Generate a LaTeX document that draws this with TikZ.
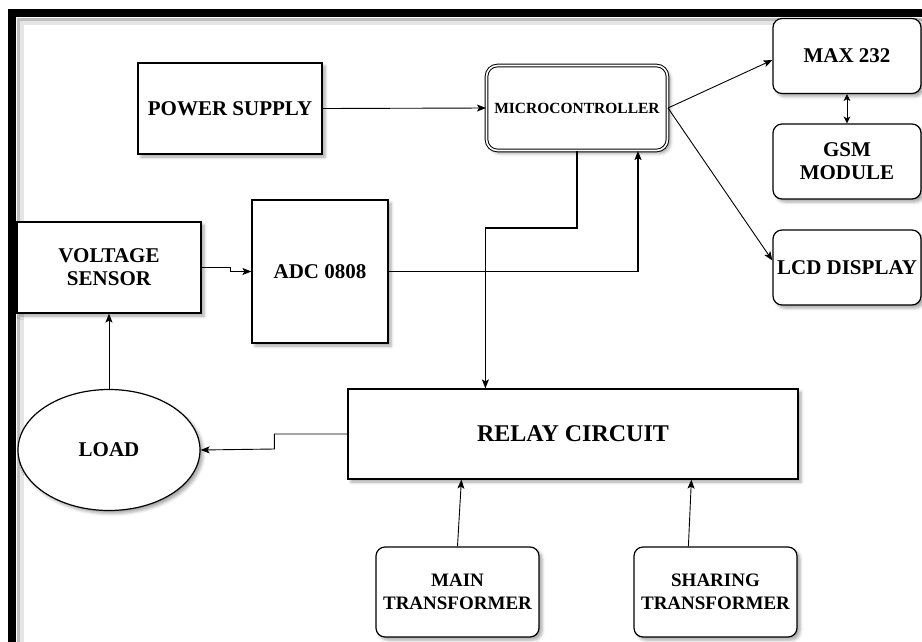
\documentclass[tikz,border=0pt]{standalone}
\usepackage{fontspec}
\setmainfont{Liberation Serif}
\usetikzlibrary{arrows.meta,shapes.geometric,shadows.blur,calc}
\tikzset{
  shd/.style={blur shadow={shadow xshift=3pt,shadow yshift=-3pt,shadow opacity=35,shadow blur radius=3pt}},
  sqbox/.style={draw=black,line width=1.2pt,fill=white,shd,align=center,inner sep=0pt,
    font=\fontsize{21}{23}\selectfont\bfseries},
  rbox/.style={sqbox,rounded corners=9pt},
  arr/.style={draw=black,line width=0.9pt,-{Stealth[length=9pt,width=7pt,inset=2pt]}},
  darr/.style={draw=black,line width=0.9pt,{Stealth[length=7pt,width=7pt,inset=2pt]}-{Stealth[length=7pt,width=7pt,inset=2pt]}}
}
\begin{document}
\begin{tikzpicture}[x=1pt,y=-1pt]
\useasboundingbox (0,0) rectangle (922,641);
% frame with inner shadow
\draw[black!10,line width=4pt] (22,700) -- (22,23) -- (950,23);
\draw[black!25,line width=3pt] (18.5,700) -- (18.5,19.5) -- (950,19.5);
\draw[black,line width=8pt] (12,700) -- (12,13) -- (950,13);

% nodes
\node[sqbox,minimum width=184pt,minimum height=91pt] (ps) at (230,108.5) {POWER SUPPLY};
\node[sqbox,rounded corners=11pt,double,double distance=1.6pt,line width=1pt,
  minimum width=181pt,minimum height=85pt,font=\fontsize{15.5}{17}\selectfont\bfseries] (mc) at (577,108) {MICROCONTROLLER};
\node[rbox,minimum width=148pt,minimum height=75pt] (max) at (847,56) {MAX 232};
\node[rbox,minimum width=148pt,minimum height=75pt] (gsm) at (847,161.5) {GSM\\MODULE};
\node[rbox,minimum width=148pt,minimum height=75pt] (lcd) at (847,267.5) {LCD DISPLAY};
\node[sqbox,minimum width=184pt,minimum height=91pt] (vs) at (109,267.5) {VOLTAGE\\SENSOR};
\node[sqbox,minimum width=136pt,minimum height=143pt] (adc) at (320,271.5) {ADC 0808};
\node[sqbox,minimum width=450pt,minimum height=90pt,font=\fontsize{24}{28}\selectfont\bfseries] (relay) at (573,434) {RELAY CIRCUIT};
\node[sqbox,ellipse,minimum width=182pt,minimum height=121pt] (load) at (109,450) {LOAD};
\node[rbox,minimum width=163pt,minimum height=90pt,font=\fontsize{19}{23}\selectfont\bfseries] (mt) at (457.5,592) {MAIN\\TRANSFORMER};
\node[rbox,minimum width=163pt,minimum height=90pt,font=\fontsize{19}{23}\selectfont\bfseries] (st) at (715.5,592) {SHARING\\TRANSFORMER};

% helper coordinates on borders
\coordinate (mcin) at ($(mc.south west)+(152,0)$);
\coordinate (rin) at ($(relay.north west)+(138,0)$);
\coordinate (rmt) at ($(relay.south west)+(114,0)$);
\coordinate (rst) at ($(relay.south west)+(344,0)$);
\coordinate (stout) at ($(st.north west)+(55,0)$);

% connectors
\draw[arr] (ps.east) -- (mc.west);
\draw[arr] (mc.east) -- ($(max.west)+(0,4)$);
\draw[arr] (mc.east) -- ($(lcd.west)+(0,-7)$);
\draw[darr] (max.south) -- (gsm.north);
\draw[arr] (vs.east) -- ++(29,0) -- ++(0,4) -- (adc.west);
\draw[arr,line width=1.6pt] (adc.east) -| (mcin);
\draw[arr,line width=1.2pt] (mc.south) -- ++(0,77) -| (rin);
\draw[arr] (relay.west) -- ++(-73,0) -- ++(0,15) -- (load.east);
\draw[arr] (load.north) -- (vs.south);
\draw[arr] (mt.north) -- (rmt);
\draw[arr] (stout) -- (rst);
\end{tikzpicture}
\end{document}
